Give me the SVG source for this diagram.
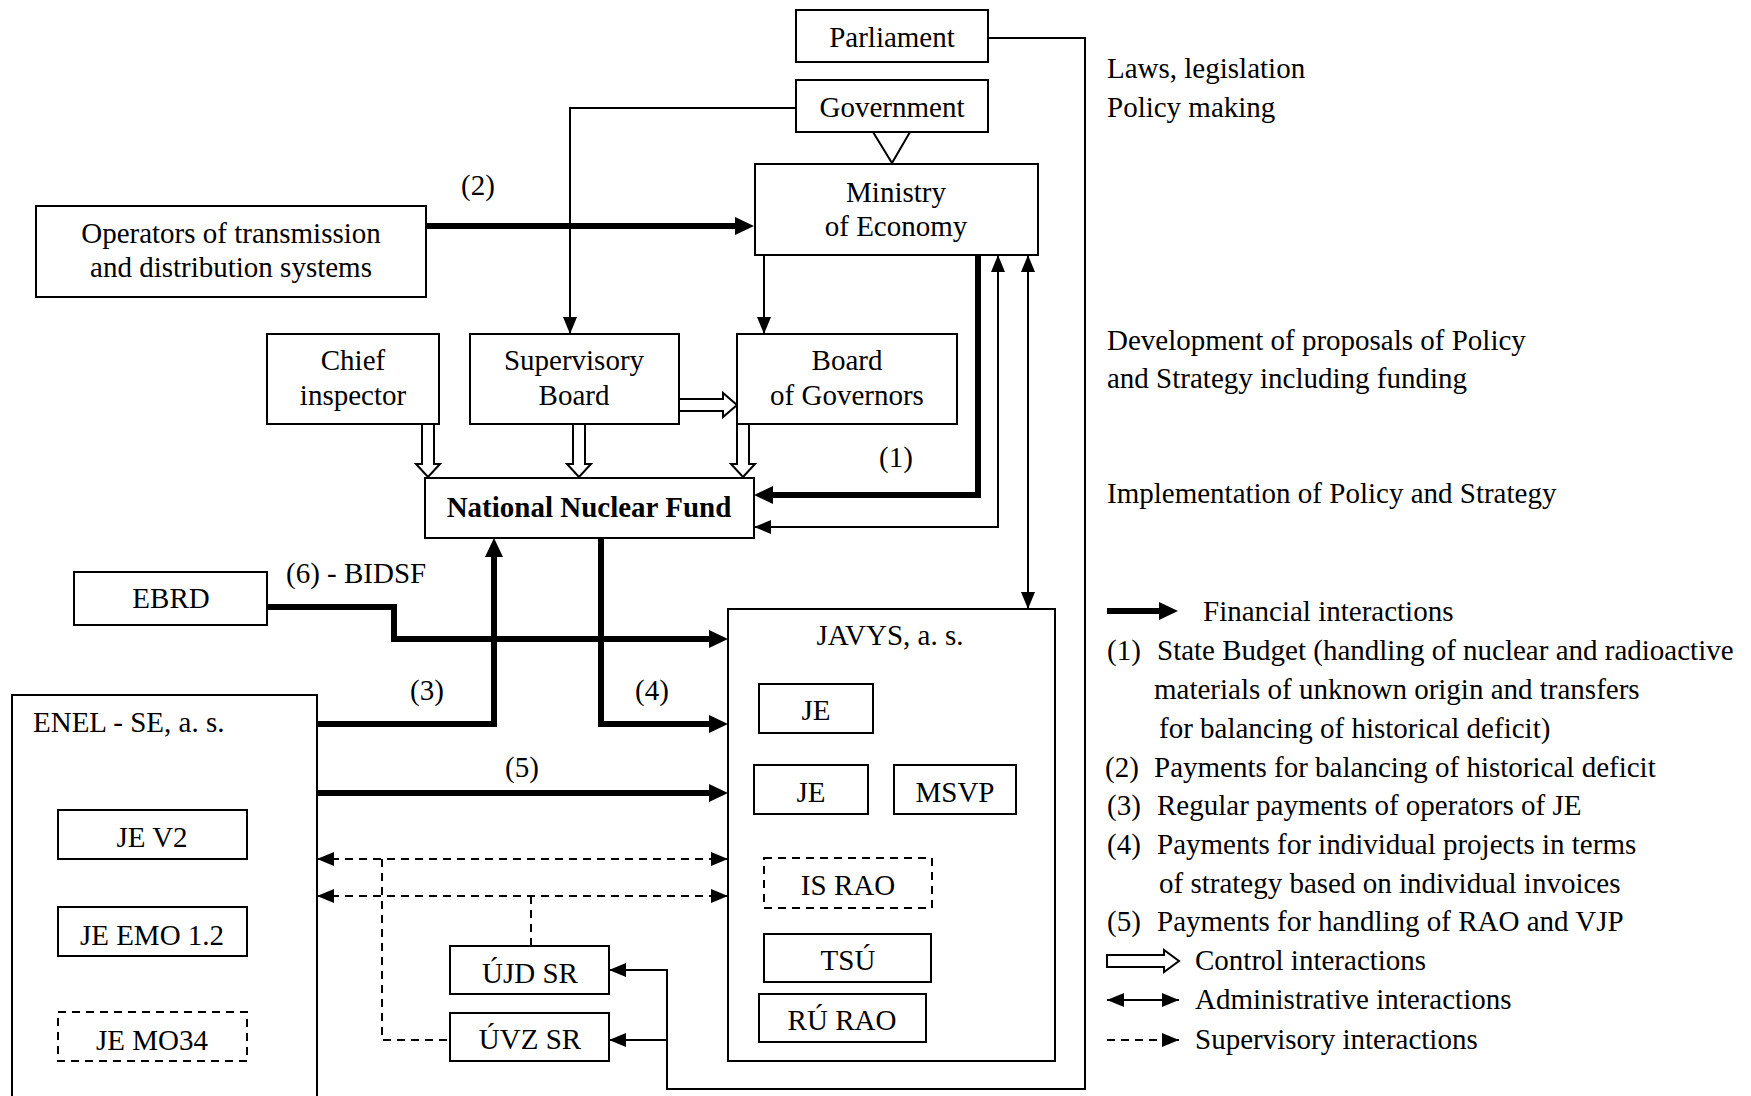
<svg xmlns="http://www.w3.org/2000/svg" width="1751" height="1096" viewBox="0 0 1751 1096">
<style>
text{font-family:"Liberation Serif","Times New Roman",serif;font-size:29px;fill:#000}
.c{text-anchor:middle}
.b{font-weight:bold}
.box{fill:#fff;stroke:#000;stroke-width:2}
.dbox{fill:#fff;stroke:#000;stroke-width:2;stroke-dasharray:8,6}
.thin{fill:none;stroke:#000;stroke-width:2}
.thick{fill:none;stroke:#000;stroke-width:6}
.dash{fill:none;stroke:#000;stroke-width:2;stroke-dasharray:8,6}
.hollow{fill:#fff;stroke:#000;stroke-width:2}
</style>
<defs>
<marker id="ah" viewBox="0 0 17 14" refX="17" refY="7" markerWidth="17" markerHeight="14" markerUnits="userSpaceOnUse" orient="auto-start-reverse"><path d="M0,0 L17,7 L0,14 z" fill="#000"/></marker>
<marker id="ahT" viewBox="0 0 19 18" refX="9" refY="9" markerWidth="19" markerHeight="18" markerUnits="userSpaceOnUse" orient="auto"><path d="M0,0 L19,9 L0,18 z" fill="#000"/></marker>
</defs>
<rect width="1751" height="1096" fill="#fff"/>

<g id="connectors">
<path class="thin" d="M988,38 H1085 V1089 H667 V970 H609" marker-end="url(#ah)"/>
<path class="thin" d="M667,1040 H609" marker-end="url(#ah)"/>
<path class="thin" d="M796,108 H570 V334" marker-end="url(#ah)"/>
<path class="thin" d="M764,255 V334" marker-end="url(#ah)"/>
<path class="thin" d="M754,527 H998 V255" marker-start="url(#ah)" marker-end="url(#ah)"/>
<path class="thin" d="M1028,255 V609" marker-start="url(#ah)" marker-end="url(#ah)"/>
<path class="thick" d="M426,226 H744" marker-end="url(#ahT)"/>
<path class="thick" d="M978,255 V495 H764" marker-end="url(#ahT)"/>
<path class="thick" d="M267,607 H394 V639 H718" marker-end="url(#ahT)"/>
<path class="thick" d="M317,724 H494 V548" marker-end="url(#ahT)"/>
<path class="thick" d="M601,538 V724 H718" marker-end="url(#ahT)"/>
<path class="thick" d="M317,793 H718" marker-end="url(#ahT)"/>
<path class="dash" d="M317,859 H728" marker-start="url(#ah)" marker-end="url(#ah)"/>
<path class="dash" d="M317,896 H728" marker-start="url(#ah)" marker-end="url(#ah)"/>
<path class="dash" d="M382,859 V1040 H450"/>
<path class="dash" d="M531,896 V946"/>
<polygon class="hollow" points="873,132 910,132 892,163"/>
<polygon class="hollow" points="422,424 434,424 434,464 440,464 428,477 416,464 422,464"/>
<polygon class="hollow" points="573,424 585,424 585,464 591,464 579,477 567,464 573,464"/>
<polygon class="hollow" points="737,424 749,424 749,464 755,464 743,477 731,464 737,464"/>
<polygon class="hollow" points="679,399 723,399 723,393 737,405 723,417 723,411 679,411"/>
<text class="c" x="478" y="195">(2)</text>
<text class="c" x="896" y="467">(1)</text>
<text x="286" y="583">(6) - BIDSF</text>
<text class="c" x="427" y="700">(3)</text>
<text class="c" x="652" y="700">(4)</text>
<text class="c" x="522" y="777">(5)</text>
</g>

<g id="parliament"><rect class="box" x="796" y="10" width="192" height="52"/><text class="c" x="892" y="47">Parliament</text></g>
<g id="government"><rect class="box" x="796" y="80" width="192" height="52"/><text class="c" x="892" y="117">Government</text></g>
<g id="ministry"><rect class="box" x="755" y="164" width="283" height="91"/><text class="c" x="896" y="202">Ministry</text><text class="c" x="896" y="236">of Economy</text></g>
<g id="operators"><rect class="box" x="36" y="206" width="390" height="91"/><text class="c" x="231" y="243">Operators of transmission</text><text class="c" x="231" y="277">and distribution systems</text></g>
<g id="chief"><rect class="box" x="267" y="334" width="172" height="90"/><text class="c" x="353" y="370">Chief</text><text class="c" x="353" y="405">inspector</text></g>
<g id="supervisory"><rect class="box" x="470" y="334" width="209" height="90"/><text class="c" x="574" y="370">Supervisory</text><text class="c" x="574" y="405">Board</text></g>
<g id="governors"><rect class="box" x="737" y="334" width="220" height="90"/><text class="c" x="847" y="370">Board</text><text class="c" x="847" y="405">of Governors</text></g>
<g id="nnf"><rect class="box" x="425" y="478" width="329" height="60"/><text class="c b" x="589" y="517">National Nuclear Fund</text></g>
<g id="ebrd"><rect class="box" x="74" y="572" width="193" height="53"/><text class="c" x="171" y="608">EBRD</text></g>
<g id="enel"><rect class="box" x="12" y="695" width="305" height="410"/><text x="33" y="732">ENEL - SE, a. s.</text>
<g id="je-v2"><rect class="box" x="58" y="810" width="189" height="49"/><text class="c" x="152" y="847">JE V2</text></g>
<g id="je-emo"><rect class="box" x="58" y="907" width="189" height="49"/><text class="c" x="152" y="945">JE EMO 1.2</text></g>
<g id="je-mo34"><rect class="dbox" x="58" y="1012" width="189" height="49"/><text class="c" x="152" y="1050">JE MO34</text></g>
</g>
<g id="ujd"><rect class="box" x="450" y="946" width="159" height="48"/><text class="c" x="530" y="983">ÚJD SR</text></g>
<g id="uvz"><rect class="box" x="450" y="1013" width="159" height="48"/><text class="c" x="530" y="1049">ÚVZ SR</text></g>
<g id="javys"><rect class="box" x="728" y="609" width="327" height="452"/><text class="c" x="890" y="645">JAVYS, a. s.</text>
<g id="je1"><rect class="box" x="759" y="684" width="114" height="49"/><text class="c" x="816" y="720">JE</text></g>
<g id="je2"><rect class="box" x="754" y="765" width="114" height="49"/><text class="c" x="811" y="802">JE</text></g>
<g id="msvp"><rect class="box" x="894" y="765" width="122" height="49"/><text class="c" x="955" y="802">MSVP</text></g>
<g id="israo"><rect class="dbox" x="764" y="858" width="168" height="50"/><text class="c" x="848" y="895">IS RAO</text></g>
<g id="tsu"><rect class="box" x="764" y="934" width="167" height="48"/><text class="c" x="848" y="970">TSÚ</text></g>
<g id="rurao"><rect class="box" x="759" y="994" width="167" height="48"/><text class="c" x="842" y="1030">RÚ RAO</text></g>
</g>

<g id="levels">
<text x="1107" y="78">Laws, legislation</text>
<text x="1107" y="117">Policy making</text>
<text x="1107" y="350">Development of proposals of Policy</text>
<text x="1107" y="388">and Strategy including funding</text>
<text x="1107" y="503">Implementation of Policy and Strategy</text>
</g>

<g id="legend">
<path class="thick" d="M1107,611 H1168" marker-end="url(#ahT)"/>
<text x="1203" y="621">Financial interactions</text>
<text x="1107" y="660">(1)</text><text x="1157" y="660">State Budget (handling of nuclear and radioactive</text>
<text x="1154" y="699">materials of unknown origin and transfers</text>
<text x="1159" y="738">for balancing of historical deficit)</text>
<text x="1105" y="777">(2)</text><text x="1154" y="777">Payments for balancing of historical deficit</text>
<text x="1107" y="815">(3)</text><text x="1157" y="815">Regular payments of operators of JE</text>
<text x="1107" y="854">(4)</text><text x="1157" y="854">Payments for individual projects in terms</text>
<text x="1159" y="893">of strategy based on individual invoices</text>
<text x="1107" y="931">(5)</text><text x="1157" y="931">Payments for handling of RAO and VJP</text>
<polygon class="hollow" points="1107,955 1164,955 1164,950 1179,961 1164,972 1164,967 1107,967"/>
<text x="1195" y="970">Control interactions</text>
<path class="thin" d="M1107,1000 H1179" marker-start="url(#ah)" marker-end="url(#ah)"/>
<text x="1195" y="1009">Administrative interactions</text>
<path class="dash" d="M1107,1040 H1179" marker-end="url(#ah)"/>
<text x="1195" y="1049">Supervisory interactions</text>
</g>
</svg>
